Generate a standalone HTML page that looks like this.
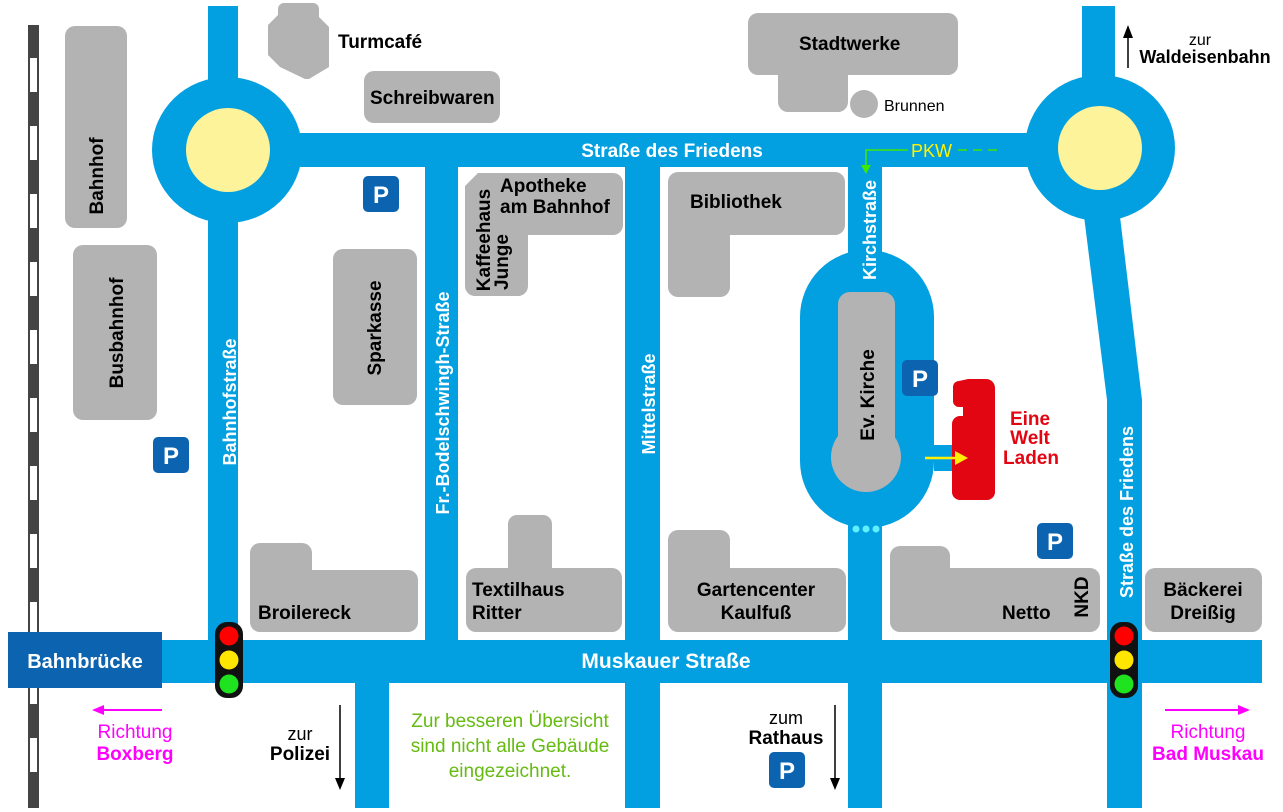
<!DOCTYPE html>
<html><head><meta charset="utf-8"><style>
html,body{margin:0;padding:0;background:#fff;}
svg{display:block;}
text{font-family:"Liberation Sans",sans-serif;font-weight:bold;letter-spacing:0px;}
</style></head><body>
<svg width="1283" height="812" viewBox="0 0 1283 812" xmlns="http://www.w3.org/2000/svg">
<rect x="28" y="25" width="11" height="783" fill="#444"/>
<g fill="#fff">
<rect x="30" y="58" width="7" height="34"/><rect x="30" y="126" width="7" height="34"/><rect x="30" y="194" width="7" height="34"/><rect x="30" y="262" width="7" height="34"/><rect x="30" y="330" width="7" height="34"/><rect x="30" y="398" width="7" height="34"/><rect x="30" y="466" width="7" height="34"/><rect x="30" y="534" width="7" height="34"/><rect x="30" y="602" width="7" height="34"/><rect x="30" y="670" width="7" height="34"/><rect x="30" y="738" width="7" height="34"/>
</g>
<g fill="#03a0e1">
<rect x="208" y="6" width="30" height="640"/>
<rect x="227" y="133" width="873" height="34"/>
<rect x="1082" y="6" width="33" height="150"/>
<polygon points="1082,200 1118,200 1142,400 1142,808 1107,808 1107,400"/>
<rect x="425" y="150" width="33" height="495"/>
<rect x="625" y="150" width="35" height="658"/>
<rect x="848" y="150" width="34" height="658"/>
<rect x="800" y="250" width="134" height="278" rx="67"/>
<rect x="934" y="445" width="22" height="26"/>
<rect x="160" y="640" width="1102" height="43"/>
<rect x="355" y="683" width="34" height="125"/>
<ellipse cx="227" cy="150" rx="75" ry="73"/>
<ellipse cx="1100" cy="148" rx="75" ry="73"/>
</g>
<ellipse cx="228" cy="150" rx="42" ry="42" fill="#fdf39a"/>
<ellipse cx="1100" cy="148" rx="42" ry="42" fill="#fdf39a"/>
<rect x="8" y="632" width="154" height="56" fill="#0c63b0"/>
<g fill="#b3b3b3">
<rect x="65" y="26" width="62" height="202" rx="10"/>
<rect x="73" y="245" width="84" height="175" rx="10"/>
<path d="M283,3 h30 a6,6 0 0 1 6,6 v8 l10,10 v40 l-20,12 h-4 l-25,-12 -12,-12 v-30 l10,-10 v-6 a6,6 0 0 1 5,-6z"/>
<rect x="364" y="71" width="136" height="52" rx="10"/>
<rect x="333" y="249" width="84" height="156" rx="10"/>
<path d="M478,173 h135 a10,10 0 0 1 10,10 v42 a10,10 0 0 1 -10,10 h-85 v51 a10,10 0 0 1 -10,10 h-43 a10,10 0 0 1 -10,-10 v-100z"/>
<path d="M678,172 h157 a10,10 0 0 1 10,10 v43 a10,10 0 0 1 -10,10 h-105 v52 a10,10 0 0 1 -10,10 h-42 a10,10 0 0 1 -10,-10 v-105 a10,10 0 0 1 10,-10z"/>
<path d="M758,13 h190 a10,10 0 0 1 10,10 v42 a10,10 0 0 1 -10,10 h-100 v27 a10,10 0 0 1 -10,10 h-50 a10,10 0 0 1 -10,-10 v-27 h-20 a10,10 0 0 1 -10,-10 v-42 a10,10 0 0 1 10,-10z"/>
<circle cx="864" cy="104" r="14"/>
<path d="M260,543 h42 a10,10 0 0 1 10,10 v17 h96 a10,10 0 0 1 10,10 v42 a10,10 0 0 1 -10,10 h-148 a10,10 0 0 1 -10,-10 v-69 a10,10 0 0 1 10,-10z"/>
<path d="M518,515 h25 a9,9 0 0 1 9,9 v44 h60 a10,10 0 0 1 10,10 v44 a10,10 0 0 1 -10,10 h-136 a10,10 0 0 1 -10,-10 v-44 a10,10 0 0 1 10,-10 h32 v-44 a9,9 0 0 1 10,-9z"/>
<path d="M678,530 h42 a10,10 0 0 1 10,10 v28 h106 a10,10 0 0 1 10,10 v44 a10,10 0 0 1 -10,10 h-158 a10,10 0 0 1 -10,-10 v-82 a10,10 0 0 1 10,-10z"/>
<path d="M900,546 h40 a10,10 0 0 1 10,10 v12 h140 a10,10 0 0 1 10,10 v44 a10,10 0 0 1 -10,10 h-190 a10,10 0 0 1 -10,-10 v-66 a10,10 0 0 1 10,-10z"/>
<rect x="1145" y="568" width="117" height="64" rx="10"/>
<rect x="838" y="292" width="57" height="170" rx="12"/>
<circle cx="866" cy="457" r="35"/>
</g>
<path d="M968,379 h18 a9,9 0 0 1 9,9 v104 a8,8 0 0 1 -8,8 h-27 a8,8 0 0 1 -8,-8 v-68 a8,8 0 0 1 8,-8 h3 v-9 h-4 a6,6 0 0 1 -6,-6 v-14 a6,6 0 0 1 6,-6z" fill="#e20613"/>
<line x1="925" y1="458" x2="955" y2="458" stroke="#ffef00" stroke-width="2.5"/>
<polygon points="968,458 955,451 955,465" fill="#ffef00"/>
<g fill="#0c63b0">
<rect x="363" y="176" width="36" height="36" rx="5"/>
<rect x="153" y="437" width="36" height="36" rx="5"/>
<rect x="902" y="360" width="36" height="36" rx="5"/>
<rect x="1037" y="523" width="36" height="36" rx="5"/>
<rect x="769" y="752" width="36" height="36" rx="5"/>
</g>
<g fill="#fff" font-size="24" text-anchor="middle">
<text x="381" y="203">P</text><text x="171" y="464">P</text><text x="920" y="387">P</text><text x="1055" y="550">P</text><text x="787" y="779">P</text>
</g>
<g fill="#5ff0ff"><circle cx="856" cy="529" r="3.5"/><circle cx="866" cy="529" r="3.5"/><circle cx="876" cy="529" r="3.5"/></g>
<rect x="215" y="622" width="28" height="76" rx="12" fill="#111"/>
<circle cx="229" cy="636" r="9.5" fill="#f00"/><circle cx="229" cy="660" r="9.5" fill="#ffe600"/><circle cx="229" cy="684" r="9.5" fill="#1ee31e"/>
<rect x="1110" y="622" width="28" height="76" rx="12" fill="#111"/>
<circle cx="1124" cy="636" r="9.5" fill="#f00"/><circle cx="1124" cy="660" r="9.5" fill="#ffe600"/><circle cx="1124" cy="684" r="9.5" fill="#1ee31e"/>
<polyline points="908,150 866,150 866,168" fill="none" stroke="#3fe800" stroke-width="1.5"/>
<polygon points="861,165 871,165 866,174" fill="#3fe800"/>
<text x="911" y="157" font-size="18" fill="#fff200" style="font-weight:normal">PKW</text>
<line x1="958" y1="150" x2="1000" y2="150" stroke="#3fe800" stroke-width="1.5" stroke-dasharray="9,6"/>
<line x1="340" y1="705" x2="340" y2="780" stroke="#000" stroke-width="1.5"/><polygon points="335,778 345,778 340,790" fill="#000"/>
<line x1="835" y1="705" x2="835" y2="780" stroke="#000" stroke-width="1.5"/><polygon points="830,778 840,778 835,790" fill="#000"/>
<line x1="1128" y1="35" x2="1128" y2="68" stroke="#000" stroke-width="1.5"/><polygon points="1123,38 1133,38 1128,25" fill="#000"/>
<line x1="100" y1="710" x2="162" y2="710" stroke="#f0f" stroke-width="2"/><polygon points="92,710 104,705 104,715" fill="#f0f"/>
<line x1="1165" y1="710" x2="1240" y2="710" stroke="#f0f" stroke-width="2"/><polygon points="1250,710 1238,705 1238,715" fill="#f0f"/>
<g font-size="19" fill="#000">
<text x="338" y="48">Turmcafé</text>
<text x="370" y="104">Schreibwaren</text>
<text x="799" y="50">Stadtwerke</text>
<text x="884" y="111" font-size="16" style="font-weight:normal">Brunnen</text>
<text x="1200" y="45" font-size="16" text-anchor="middle" style="font-weight:normal">zur</text>
<text x="1205" y="63" text-anchor="middle" font-size="18">Waldeisenbahn</text>
<text x="500" y="192">Apotheke</text>
<text x="500" y="213">am Bahnhof</text>
<text x="690" y="208">Bibliothek</text>
<text x="258" y="619">Broilereck</text>
<text x="472" y="596">Textilhaus</text>
<text x="472" y="619">Ritter</text>
<text x="756" y="596" text-anchor="middle">Gartencenter</text>
<text x="756" y="619" text-anchor="middle">Kaulfuß</text>
<text x="1002" y="619">Netto</text>
<text x="1203" y="596" text-anchor="middle">Bäckerei</text>
<text x="1203" y="619" text-anchor="middle">Dreißig</text>
<text x="300" y="740" font-size="18" text-anchor="middle" style="font-weight:normal">zur</text>
<text x="300" y="760" text-anchor="middle">Polizei</text>
<text x="786" y="724" font-size="18" text-anchor="middle" style="font-weight:normal">zum</text>
<text x="786" y="744" text-anchor="middle">Rathaus</text>
<text transform="translate(103,176) rotate(-90)" text-anchor="middle">Bahnhof</text>
<text transform="translate(123,333) rotate(-90)" text-anchor="middle">Busbahnhof</text>
<text transform="translate(381,328) rotate(-90)" text-anchor="middle">Sparkasse</text>
<text transform="translate(874,395) rotate(-90)" text-anchor="middle">Ev. Kirche</text>
<text transform="translate(1088,597) rotate(-90)" text-anchor="middle">NKD</text>
<text transform="translate(490,240) rotate(-90)" text-anchor="middle">Kaffeehaus</text>
<text transform="translate(508,262) rotate(-90)" text-anchor="middle">Junge</text>
</g>
<g font-size="18" fill="#fff">
<text x="672" y="157" text-anchor="middle" font-size="19">Straße des Friedens</text>
<text x="666" y="668" text-anchor="middle" font-size="21">Muskauer Straße</text>
<text x="85" y="668" text-anchor="middle" font-size="20">Bahnbrücke</text>
<text transform="translate(236,402) rotate(-90)" text-anchor="middle">Bahnhofstraße</text>
<text transform="translate(449,403) rotate(-90)" text-anchor="middle">Fr.-Bodelschwingh-Straße</text>
<text transform="translate(655,404) rotate(-90)" text-anchor="middle">Mittelstraße</text>
<text transform="translate(876,230) rotate(-90)" text-anchor="middle">Kirchstraße</text>
<text transform="translate(1133,512) rotate(-90)" text-anchor="middle">Straße des Friedens</text>
</g>
<g font-size="19" fill="#e20613" text-anchor="middle">
<text x="1030" y="425">Eine</text><text x="1030" y="444">Welt</text><text x="1031" y="464">Laden</text>
</g>
<g fill="#f0f" text-anchor="middle" font-size="19">
<text x="135" y="738" style="font-weight:normal">Richtung</text>
<text x="135" y="760">Boxberg</text>
<text x="1208" y="738" style="font-weight:normal">Richtung</text>
<text x="1208" y="760">Bad Muskau</text>
</g>
<g fill="#66bb11" text-anchor="middle" font-size="19">
<text x="510" y="727" style="font-weight:normal">Zur besseren Übersicht</text>
<text x="510" y="752" style="font-weight:normal">sind nicht alle Gebäude</text>
<text x="510" y="777" style="font-weight:normal">eingezeichnet.</text>
</g>
</svg>
</body></html>
